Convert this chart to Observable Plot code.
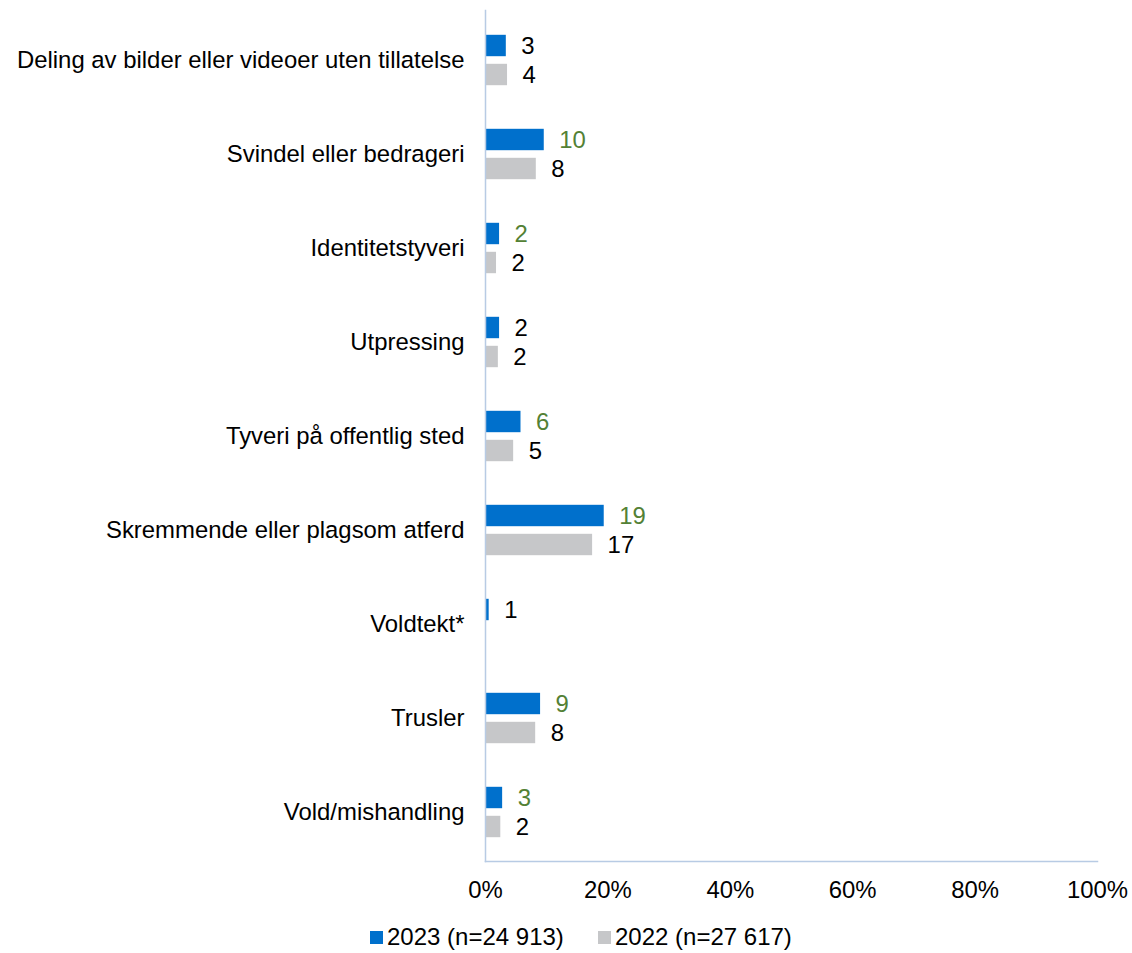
<!DOCTYPE html>
<html>
<head>
<meta charset="utf-8">
<script src="https://cdn.jsdelivr.net/npm/d3@7"></script>
<script src="https://cdn.jsdelivr.net/npm/@observablehq/plot@0.6"></script>
<style>
  html, body { margin: 0; background: #fff; font-family: "Liberation Sans", Arial, sans-serif; overflow: hidden; }
  #chart svg { display: block; }
  .legend { position: relative; height: 36px; font-size: 24px; line-height: 26px; color: #000; }
  .legend .item { position: absolute; top: 9px; display: flex; align-items: center; }
  .legend .sw { width: 13px; height: 13px; margin-right: 4px; }
</style>
</head>
<body>
<div id="chart"></div>
<div class="legend" id="legend"></div>
<script>
const categories = [
  "Deling av bilder eller videoer uten tillatelse",
  "Svindel eller bedrageri",
  "Identitetstyveri",
  "Utpressing",
  "Tyveri på offentlig sted",
  "Skremmende eller plagsom atferd",
  "Voldtekt*",
  "Trusler",
  "Vold/mishandling"
];
const values2023 = [3.4, 9.6, 2.3, 2.3, 5.8, 19.4, 0.6, 9.0, 2.8];
const values2022 = [3.6, 8.3, 1.8, 2.1, 4.6, 17.5, null, 8.2, 2.5];
const labels2023 = [3, 10, 2, 2, 6, 19, 1, 9, 3];
const labels2022 = [4, 8, 2, 2, 5, 17, null, 8, 2];
const significant2023 = [false, true, true, false, true, true, false, true, true];
const seriesNames = ["2023 (n=24 913)", "2022 (n=27 617)"];
const xTicks = [0, 20, 40, 60, 80, 100];

const colors = { s2023: "#0070CC", s2022: "#C6C7C9", sig: "#538135", axis: "#B8CBE4" };

const d23 = categories.map((c, i) => ({ cat: c, value: values2023[i], label: labels2023[i], sig: significant2023[i] }));
const d22 = categories.map((c, i) => ({ cat: c, value: values2022[i], label: labels2022[i] })).filter(d => d.value != null);

const fs = "23.9px";
const chart = Plot.plot({
  width: 1132,
  height: 915,
  marginLeft: 485,
  marginRight: 35,
  marginTop: 10,
  marginBottom: 54,
  style: { fontFamily: "'Liberation Sans', Arial, sans-serif", fontSize: fs, color: "#000", background: "#fff" },
  x: { domain: [0, 100], ticks: xTicks, tickFormat: d => d + "%", tickSize: 0, tickPadding: 20, label: null },
  y: { domain: categories, padding: 0, tickSize: 0, tickPadding: 21, label: null },
  marks: [
    Plot.barX(d23, { x: "value", y: "cat", fill: colors.s2023, insetTop: 21.8, insetBottom: 50.8 }),
    Plot.barX(d22, { x: "value", y: "cat", fill: colors.s2022, insetTop: 50.8, insetBottom: 21.8 }),
    Plot.text(d23, { x: "value", y: "cat", text: "label", dy: -14.5, dx: 15, textAnchor: "start",
      fill: d => d.sig ? colors.sig : "#000", fontSize: fs }),
    Plot.text(d22, { x: "value", y: "cat", text: "label", dy: 14.5, dx: 15, textAnchor: "start",
      fill: "#000", fontSize: fs }),
    Plot.frame({ anchor: "left", stroke: colors.axis, strokeWidth: 1.5 }),
    Plot.frame({ anchor: "bottom", stroke: colors.axis, strokeWidth: 1.5 })
  ]
});
document.getElementById("chart").appendChild(chart);

const legend = document.getElementById("legend");
const legendX = [370, 598];
[colors.s2023, colors.s2022].forEach((col, i) => {
  const item = document.createElement("div");
  item.className = "item";
  item.style.left = legendX[i] + "px";
  item.innerHTML = `<span class="sw" style="background:${col}"></span><span>${seriesNames[i]}</span>`;
  legend.appendChild(item);
});
</script>
</body>
</html>
